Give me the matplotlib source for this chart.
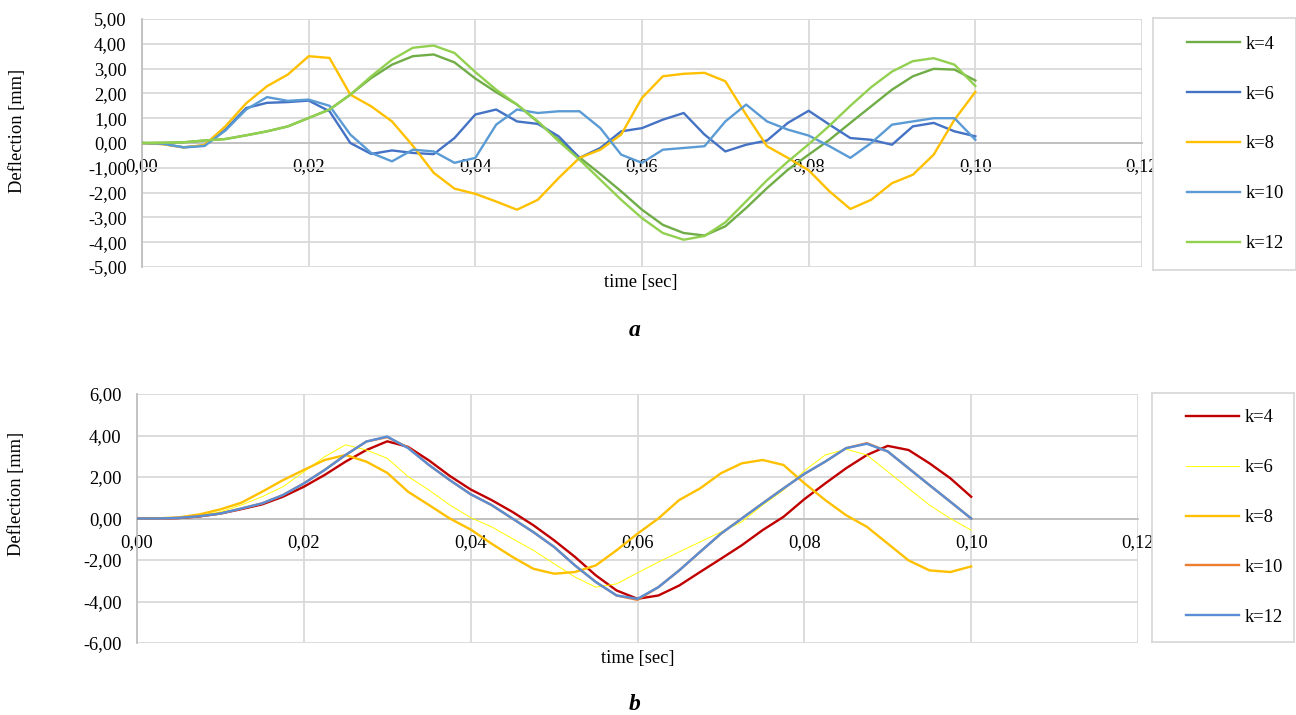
import numpy as np
import matplotlib
matplotlib.use("Agg")
import matplotlib.pyplot as plt

plt.rcParams['font.family'] = ['Liberation Serif', 'DejaVu Serif']

# time axis, sampled every 0.0025 s
t = np.arange(41) * 0.0025

labels = ["k=4", "k=6", "k=8", "k=10", "k=12"]

# --- chart a ---
a_k4 = [0, 0.01, 0.03, 0.1, 0.16, 0.31, 0.47, 0.67, 1.01, 1.35, 1.95, 2.62, 3.16, 3.5, 3.57, 3.25,
        2.6, 2.05, 1.55, 0.85, 0.13, -0.58, -1.25, -1.95, -2.69, -3.3, -3.63, -3.73, -3.36, -2.62,
        -1.82, -1.08, -0.47, 0.13, 0.81, 1.48, 2.15, 2.69, 2.99, 2.96, 2.52]
a_k6 = [0, -0.04, -0.17, -0.1, 0.54, 1.41, 1.62, 1.65, 1.71, 1.28, 0.0, -0.44, -0.3, -0.4, -0.45, 0.2,
        1.15, 1.35, 0.87, 0.77, 0.27, -0.6, -0.2, 0.47, 0.6, 0.94, 1.21, 0.34, -0.34, -0.07,
        0.1, 0.81, 1.3, 0.74, 0.2, 0.13, -0.07, 0.67, 0.81, 0.47, 0.27]
a_k8 = [0, -0.05, -0.18, -0.08, 0.67, 1.6, 2.29, 2.76, 3.5, 3.43, 1.95, 1.48, 0.87, -0.11, -1.2, -1.84,
        -2.05, -2.36, -2.69, -2.29, -1.41, -0.6, -0.27, 0.34, 1.82, 2.69, 2.79, 2.83, 2.49, 1.14,
        -0.13, -0.6, -1.1, -1.95, -2.66, -2.29, -1.62, -1.28, -0.47, 0.94, 2.06]
a_k10 = [0, -0.03, -0.18, -0.12, 0.5, 1.35, 1.85, 1.7, 1.75, 1.5, 0.34, -0.4, -0.74, -0.27, -0.34, -0.8,
         -0.6, 0.74, 1.35, 1.21, 1.28, 1.28, 0.6, -0.47, -0.8, -0.27, -0.2, -0.13, 0.87, 1.55,
         0.87, 0.54, 0.3, -0.13, -0.6, 0.0, 0.74, 0.87, 1.0, 1.0, 0.13]
a_k12 = [0, 0.01, 0.03, 0.1, 0.16, 0.31, 0.47, 0.67, 1.01, 1.35, 1.95, 2.69, 3.36, 3.84, 3.93, 3.63,
         2.86, 2.15, 1.55, 0.87, 0.07, -0.67, -1.48, -2.29, -3.03, -3.63, -3.9, -3.75, -3.2, -2.35,
         -1.5, -0.75, -0.05, 0.7, 1.5, 2.25, 2.88, 3.3, 3.42, 3.16, 2.3]
a_colors = ["#70AD47", "#4472C4", "#FFC000", "#5B9BD5", "#92D050"]
a_yticks = [-5, -4, -3, -2, -1, 0, 1, 2, 3, 4, 5]
a_yticklabels = ["-5,00", "-4,00", "-3,00", "-2,00", "-1,00", "0,00", "1,00", "2,00", "3,00", "4,00", "5,00"]

# --- chart b ---
b_k4 = [0, 0, 0.02, 0.1, 0.24, 0.45, 0.68, 1.05, 1.53, 2.1, 2.74, 3.3, 3.72, 3.45, 2.8, 2.05,
        1.4, 0.89, 0.32, -0.32, -1.05, -1.85, -2.74, -3.47, -3.87, -3.71, -3.23, -2.58, -1.94, -1.29,
        -0.56, 0.08, 0.93, 1.69, 2.42, 3.06, 3.5, 3.3, 2.66, 1.94, 1.05]
b_k6 = [0, 0, 0.04, 0.16, 0.32, 0.65, 1.05, 1.53, 2.25, 2.98, 3.55, 3.3, 2.9, 2.02, 1.37, 0.65,
        0.04, -0.4, -0.97, -1.53, -2.18, -2.82, -3.31, -3.15, -2.62, -2.1, -1.61, -1.13, -0.65, -0.16,
        0.65, 1.37, 2.3, 3.06, 3.34, 3.06, 2.26, 1.45, 0.65, 0.0, -0.56]
b_k8 = [0, 0.01, 0.05, 0.2, 0.44, 0.76, 1.29, 1.85, 2.34, 2.82, 3.06, 2.74, 2.2, 1.29, 0.65, 0.0,
        -0.53, -1.21, -1.85, -2.42, -2.66, -2.58, -2.26, -1.53, -0.73, 0.0, 0.89, 1.45, 2.18, 2.66,
        2.82, 2.58, 1.7, 0.89, 0.16, -0.4, -1.21, -2.02, -2.5, -2.58, -2.31]
b_k10 = [0, 0, 0.03, 0.11, 0.24, 0.48, 0.73, 1.13, 1.69, 2.34, 3.06, 3.71, 3.92, 3.42, 2.58, 1.85,
         1.17, 0.65, 0.0, -0.65, -1.37, -2.26, -3.06, -3.71, -3.92, -3.31, -2.5, -1.61, -0.73, 0.0,
         0.73, 1.45, 2.15, 2.74, 3.39, 3.63, 3.23, 2.42, 1.61, 0.81, 0.0]
b_k12 = [0, 0, 0.03, 0.11, 0.24, 0.48, 0.73, 1.13, 1.69, 2.34, 3.06, 3.71, 3.95, 3.39, 2.58, 1.85,
         1.17, 0.65, 0.0, -0.65, -1.37, -2.26, -3.06, -3.71, -3.87, -3.31, -2.5, -1.61, -0.73, 0.0,
         0.73, 1.45, 2.15, 2.74, 3.39, 3.6, 3.23, 2.42, 1.61, 0.81, 0.0]
b_colors = ["#C00000", "#FFFF00", "#FFC000", "#ED7D31", "#5A8ED4"]
b_widths = [1.7, 0.7, 1.7, 1.7, 1.7]
b_yticks = [-6, -4, -2, 0, 2, 4, 6]
b_yticklabels = ["-6,00", "-4,00", "-2,00", "0,00", "2,00", "4,00", "6,00"]

xticks = [0, 0.02, 0.04, 0.06, 0.08, 0.10, 0.12]
xticklabels = ["0,00", "0,02", "0,04", "0,06", "0,08", "0,10", "0,12"]

W, H = 1296, 715
FS = 13.3
GRID = "#D9D9D9"


def box(x0, y0, x1, y1):
    # pixel box (top-left origin) -> figure fraction rect
    return [x0 / W, 1 - y1 / H, (x1 - x0) / W, (y1 - y0) / H]


def style_axes(ax, ylim, yticks, yticklabels):
    ax.set_xlim(0, 0.12)
    ax.set_ylim(*ylim)
    ax.set_xticks(xticks)
    ax.set_xticklabels(xticklabels)
    ax.set_yticks(yticks)
    ax.set_yticklabels(yticklabels)
    ax.grid(True, color=GRID, linewidth=1.3, zorder=0)
    ax.set_axisbelow(True)
    for s in ["top", "right"]:
        ax.spines[s].set_visible(False)
    ax.spines["left"].set_color("#BFBFBF")
    ax.spines["left"].set_linewidth(1.3)
    ax.spines["bottom"].set_position(("data", 0))
    ax.spines["bottom"].set_color("#BFBFBF")
    ax.spines["bottom"].set_linewidth(1.3)
    ax.tick_params(axis="both", length=0, labelsize=FS, colors="black")
    ax.tick_params(axis="y", pad=11)
    ax.tick_params(axis="x", pad=11)


def legend_box(rect, handles):
    lax = fig.add_axes(rect)
    lax.set_xticks([])
    lax.set_yticks([])
    for s in lax.spines.values():
        s.set_color(GRID)
        s.set_linewidth(1.3)
    lax.legend(handles, labels, loc="center left", bbox_to_anchor=(0.175, 0.5),
               frameon=False, fontsize=FS, borderpad=0, handlelength=2.85,
               handletextpad=0.3, labelspacing=1.78)


fig = plt.figure(figsize=(W / 100, H / 100), dpi=100)

# chart a
ax1 = fig.add_axes(box(142, 19, 1142, 267))
lines_a = []
for y, c in zip([a_k4, a_k6, a_k8, a_k10, a_k12], a_colors):
    ln, = ax1.plot(t, y, color=c, linewidth=1.7, zorder=3)
    lines_a.append(ln)
style_axes(ax1, (-5, 5), a_yticks, a_yticklabels)
legend_box(box(1153, 18, 1296, 270), lines_a)
fig.text(641 / W, 1 - 283 / H, "time [sec]", ha="center", va="center", fontsize=FS)
fig.text(18 / W, 1 - 131 / H, "Deflection [mm]", ha="center", va="center", rotation=90, fontsize=FS)
fig.text(635 / W, 1 - 330 / H, "a", ha="center", va="center", fontsize=17,
         fontweight="bold", fontstyle="italic")

# chart b
ax2 = fig.add_axes(box(137, 394, 1138, 643))
lines_b = []
for y, c, lw in zip([b_k4, b_k6, b_k8, b_k10, b_k12], b_colors, b_widths):
    ln, = ax2.plot(t, y, color=c, linewidth=lw, zorder=3)
    lines_b.append(ln)
style_axes(ax2, (-6, 6), b_yticks, b_yticklabels)
legend_box(box(1152, 393, 1294, 642), lines_b)
fig.text(638 / W, 1 - 659 / H, "time [sec]", ha="center", va="center", fontsize=FS)
fig.text(17 / W, 1 - 494 / H, "Deflection [mm]", ha="center", va="center", rotation=90, fontsize=FS)
fig.text(635 / W, 1 - 705 / H, "b", ha="center", va="center", fontsize=17,
         fontweight="bold", fontstyle="italic")

fig.savefig("out.png", dpi=100)
